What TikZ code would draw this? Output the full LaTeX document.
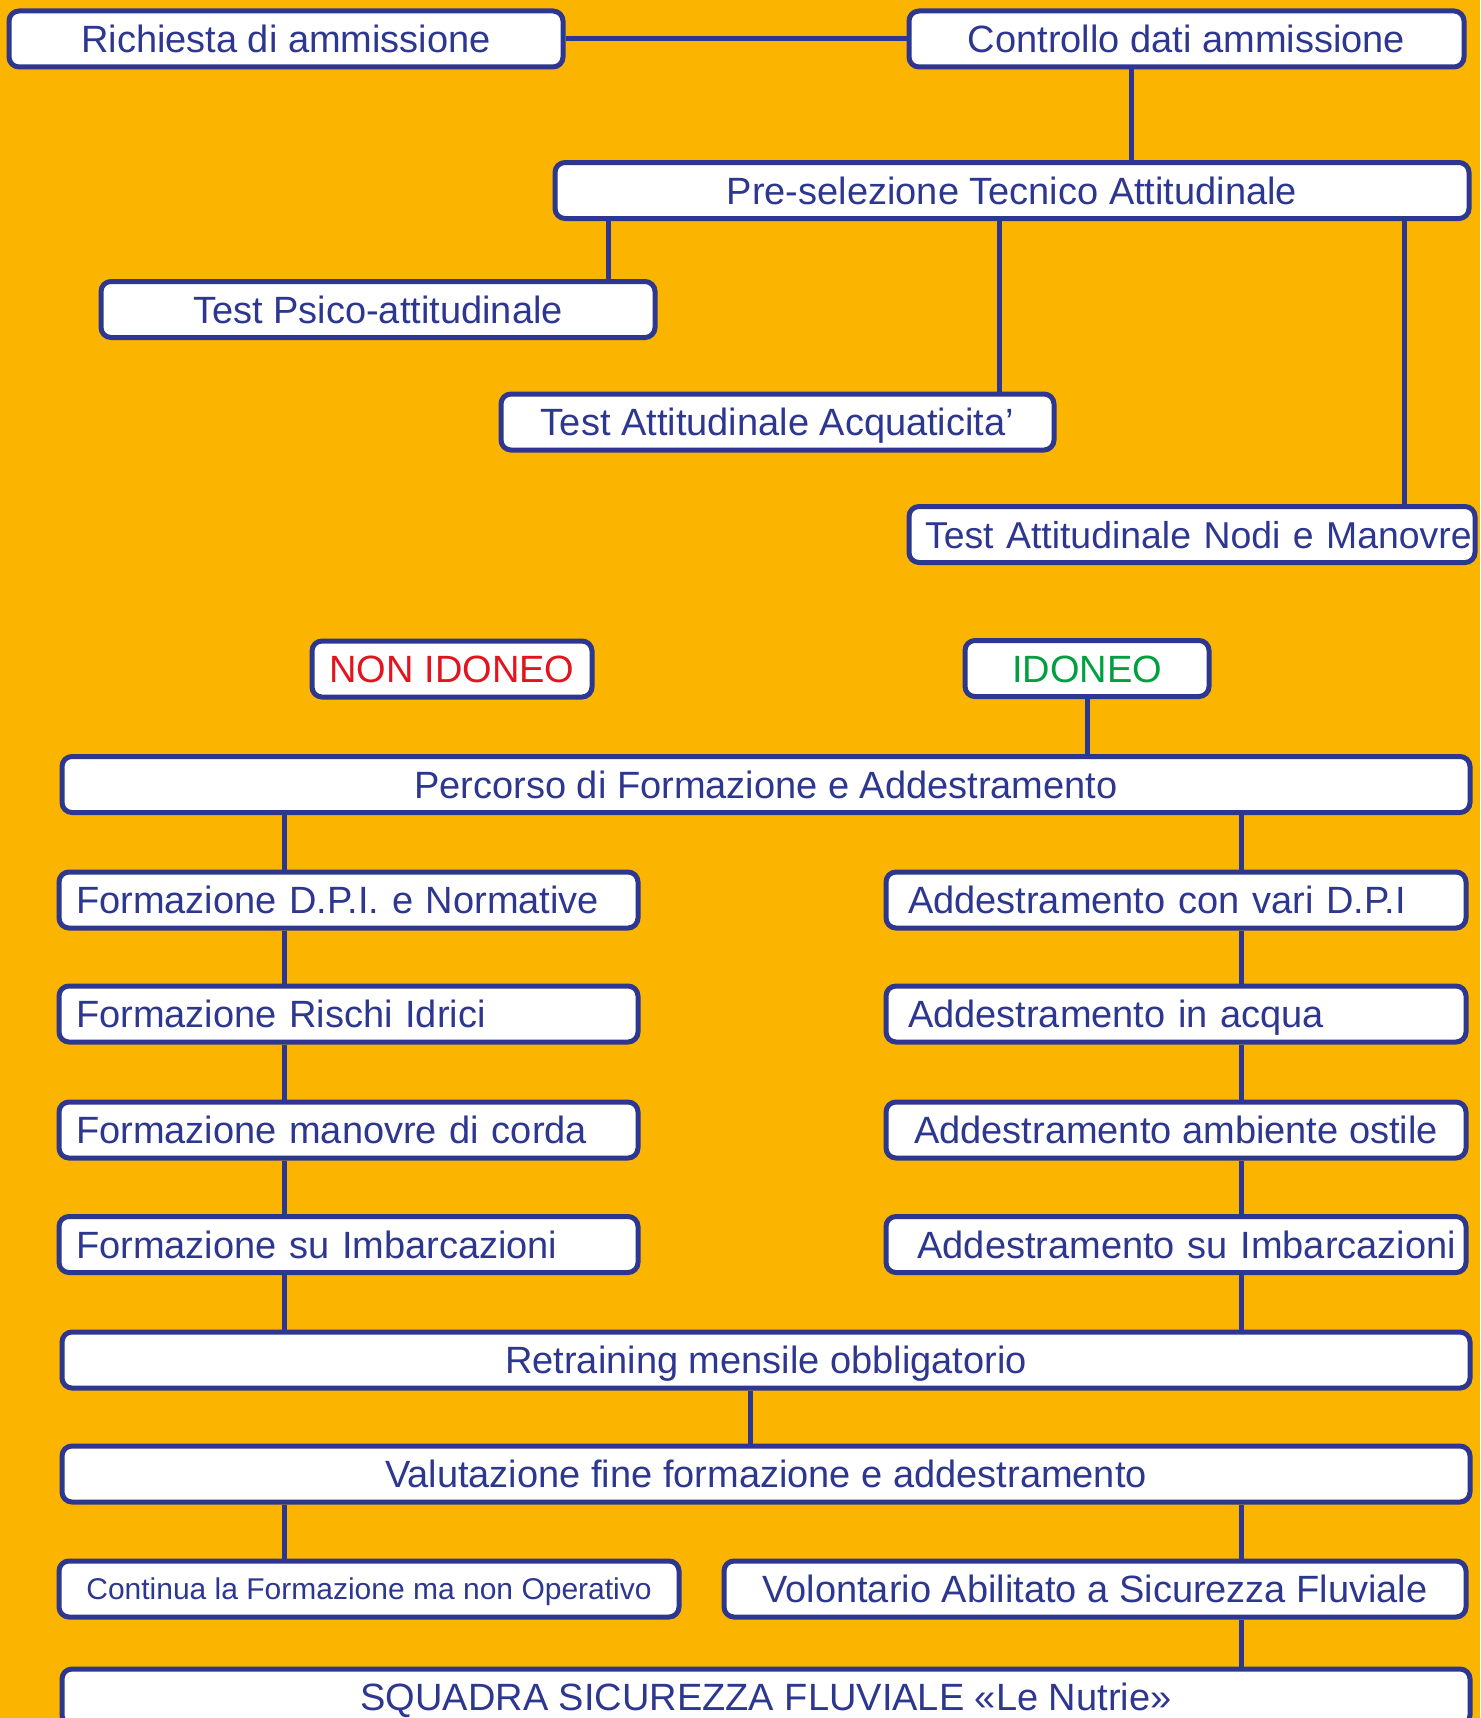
\documentclass[tikz,border=0pt]{standalone}
\usepackage{fontspec}
\setmainfont{Liberation Sans}
\definecolor{bg}{HTML}{FBB400}
\definecolor{navy}{HTML}{2E3790}
\definecolor{nored}{HTML}{E3141E}
\definecolor{okgreen}{HTML}{00A040}
\begin{document}
\begin{tikzpicture}[x=1pt,y=-1pt,
  box/.style={draw=navy, line width=5pt, fill=white, rounded corners=10pt,
    minimum height=56pt, inner sep=0pt, text=navy,
    font=\fontsize{38}{44}\selectfont, text height=27pt, text depth=0pt},
  small/.style={font=\fontsize{30}{36}\selectfont, text height=21.5pt},
  lbox/.style={box, text width=#1, align=left},
  link/.style={draw=navy, line width=5pt}]
\fill[bg] (0,0) rectangle (1480,1718);
\useasboundingbox (0,0) rectangle (1480,1718);

% top part
\node[box, minimum width=554pt] (ric) at (286,39) {Richiesta di ammissione};
\node[box, minimum width=555pt] (con) at (1186.5,39) {Controllo dati ammissione};
\node[box, minimum width=914pt] (pre) at (1012,190.5) {Pre-selezione Tecnico Attitudinale};
\node[box, minimum width=554pt] (psi) at (378,309.5) {Test Psico-attitudinale};
\node[box, minimum width=553pt] (acq) at (777.5,422) {Test Attitudinale Acquaticita’};
\node[lbox=534pt, inner xsep=16pt, font=\fontsize{37.4}{44}\selectfont] (nod) at (1192,534.5) {\mbox{Test Attitudinale Nodi e Manovre}};

\node[box, minimum width=280pt, text=nored] (non) at (452,669) {NON IDONEO};
\node[box, minimum width=244pt, text=okgreen] (ido) at (1087,668.5) {IDONEO};

\node[box, minimum width=1408pt] (per) at (766,784.5) {Percorso di Formazione e Addestramento};

% left column
\node[lbox=545pt, inner xsep=17pt] (l1) at (348.5,900) {Formazione D.P.I. e Normative};
\node[lbox=545pt, inner xsep=17pt] (l2) at (348.5,1014) {Formazione Rischi Idrici};
\node[lbox=545pt, inner xsep=17pt] (l3) at (348.5,1130) {Formazione manovre di corda};
\node[lbox=545pt, inner xsep=17pt] (l4) at (348.5,1244.5) {Formazione su Imbarcazioni};

% right column
\node[lbox=536pt, inner xsep=22pt] (r1) at (1176,900) {Addestramento con vari D.P.I};
\node[lbox=536pt, inner xsep=22pt] (r2) at (1176,1014) {Addestramento in acqua};
\node[box, minimum width=580pt] (r3) at (1176,1130) {Addestramento ambiente ostile};
\node[lbox=560pt, inner xsep=10pt, align=right] (r4) at (1176,1244.5) {Addestramento su Imbarcazioni};

\node[box, minimum width=1408pt] (ret) at (766,1360) {Retraining mensile obbligatorio};
\node[box, minimum width=1408pt] (val) at (766,1474) {Valutazione fine formazione e addestramento};

\node[box, small, minimum width=620pt] (cont) at (369,1589) {Continua la Formazione ma non Operativo};
\node[box, minimum width=742pt] (vol) at (1095,1589) {Volontario Abilitato a Sicurezza Fluviale};

\node[box, minimum width=1408pt] (squ) at (766,1697) {SQUADRA SICUREZZA FLUVIALE «Le Nutrie»};

% connectors
\draw[link] (ric.east) -- (con.west);
\draw[link] (con.south -| 1131,0) -- (pre.north -| 1131,0);
\draw[link] (pre.south -| 608,0) -- (psi.north -| 608,0);
\draw[link] (pre.south -| 999,0) -- (acq.north -| 999,0);
\draw[link] (pre.south -| 1404,0) -- (nod.north -| 1404,0);
\draw[link] (ido.south) -- (per.north -| ido.south);
\draw[link] (per.south -| 284,0) -- (l1.north -| 284,0);
\draw[link] (l1.south -| 284,0) -- (l2.north -| 284,0);
\draw[link] (l2.south -| 284,0) -- (l3.north -| 284,0);
\draw[link] (l3.south -| 284,0) -- (l4.north -| 284,0);
\draw[link] (l4.south -| 284,0) -- (ret.north -| 284,0);
\draw[link] (per.south -| 1241,0) -- (r1.north -| 1241,0);
\draw[link] (r1.south -| 1241,0) -- (r2.north -| 1241,0);
\draw[link] (r2.south -| 1241,0) -- (r3.north -| 1241,0);
\draw[link] (r3.south -| 1241,0) -- (r4.north -| 1241,0);
\draw[link] (r4.south -| 1241,0) -- (ret.north -| 1241,0);
\draw[link] (ret.south -| 750,0) -- (val.north -| 750,0);
\draw[link] (val.south -| 284,0) -- (cont.north -| 284,0);
\draw[link] (val.south -| 1241,0) -- (vol.north -| 1241,0);
\draw[link] (vol.south -| 1241,0) -- (squ.north -| 1241,0);
\end{tikzpicture}
\end{document}
